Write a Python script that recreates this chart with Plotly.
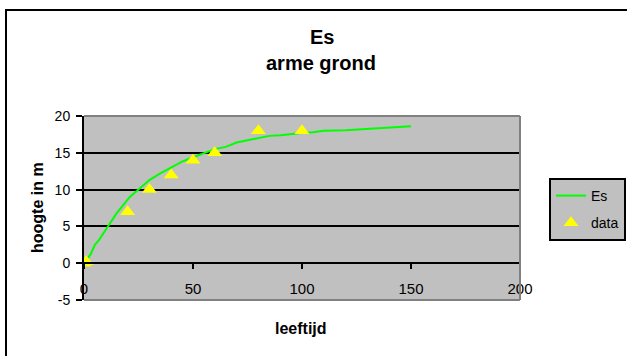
import plotly.graph_objects as go

# Data
curve_age = [0, 1, 3, 5, 7, 9, 12, 15, 18, 21, 25, 30, 35, 40, 45, 50, 55, 60, 65, 70,
             75, 80, 85, 90, 95, 100, 105, 110, 120, 130, 140, 150]
curve_height = [0, 0.4, 1.2, 2.5, 3.2, 4.1, 5.5, 6.8, 7.9, 9.0, 10.0, 11.3, 12.2, 13.0,
                13.8, 14.4, 15.0, 15.5, 15.8, 16.4, 16.7, 17.0, 17.3, 17.4, 17.6, 17.7,
                17.8, 18.0, 18.05, 18.2, 18.4, 18.6]
data_age = [0, 1, 20, 30, 40, 50, 60, 80, 100]
data_height = [0, 0.2, 7, 10, 12, 14, 15, 18, 18]
y_tick_values = [-5, 0, 5, 10, 15, 20]
y_tick_labels = ["-5", "0", "5", "10", "15", "20"]

FONT = "Liberation Sans, Arial, sans-serif"

fig = go.Figure()
fig.add_trace(go.Scatter(x=curve_age, y=curve_height, mode="lines", name="Es",
                         line=dict(color="#00ff00", width=2), legendgroup="a"))
fig.add_trace(go.Scatter(x=data_age, y=data_height, mode="markers", name="data",
                         marker=dict(symbol="triangle-up", color="#ffff00", size=13,
                                     line=dict(width=0)), legendgroup="b"))

W, H = 627, 356
L, R, T, B = 84, 520, 116, 300
pw, ph = R - L, B - T

def px(x):
    return (x - L) / pw

def py(y):
    return 1 - (y - T) / ph

fig.update_layout(
    width=W, height=H,
    margin=dict(l=L, r=W - R, t=T, b=H - B, autoexpand=False),
    paper_bgcolor="white", plot_bgcolor="#c0c0c0",
    font=dict(family=FONT, color="black", size=14),
    showlegend=True,
    legend=dict(x=px(549), y=py(178), xanchor="left", yanchor="top",
                bgcolor="#c0c0c0", bordercolor="black", borderwidth=2,
                font=dict(size=14, family=FONT), tracegroupgap=6),
    xaxis=dict(range=[0, 200], dtick=50, tick0=0, showgrid=False, zeroline=False,
               showline=True, linecolor="black", linewidth=2,
               ticks="outside", ticklen=5, tickwidth=2, tickcolor="black",
               anchor="free", position=0.2, ticklabelstandoff=7,
               tickfont=dict(size=15, family=FONT)),
    yaxis=dict(range=[-5, 20], tickmode="array", tickvals=y_tick_values,
               ticktext=y_tick_labels, showgrid=True, gridcolor="black",
               gridwidth=1.5, zeroline=False, showline=True, linecolor="black",
               linewidth=2, ticks="outside", ticklen=6, tickwidth=2, tickcolor="black",
               ticklabelstandoff=3, tickfont=dict(size=14, family=FONT)),
    shapes=[
        dict(type="line", xref="paper", yref="paper", x0=0, x1=1, y0=1, y1=1,
             line=dict(color="#808080", width=2), layer="above"),
        dict(type="line", xref="paper", yref="paper", x0=1, x1=1, y0=0, y1=1,
             line=dict(color="#808080", width=2), layer="above"),
        dict(type="line", xref="paper", yref="paper", x0=0, x1=1, y0=0, y1=0,
             line=dict(color="#808080", width=2), layer="above"),
        dict(type="rect", xref="paper", yref="paper", x0=px(6), x1=px(700),
             y0=py(400), y1=py(10), line=dict(color="black", width=2),
             fillcolor="rgba(0,0,0,0)", layer="above"),
    ],
    annotations=[
        dict(text="<b>Es</b>", x=px(322), y=py(37), xref="paper", yref="paper",
             xanchor="center", yanchor="middle",
             showarrow=False, font=dict(size=20, family=FONT)),
        dict(text="<b>arme grond</b>", x=px(321), y=py(63), xref="paper", yref="paper",
             xanchor="center", yanchor="middle",
             showarrow=False, font=dict(size=20, family=FONT)),
        dict(text="<b>hoogte in m</b>", x=px(37), y=py(208), xref="paper", yref="paper",
             xanchor="center", yanchor="middle",
             showarrow=False, textangle=-90, font=dict(size=16, family=FONT)),
        dict(text="<b>leeftijd</b>", x=px(301), y=py(328), xref="paper", yref="paper",
             xanchor="center", yanchor="middle",
             showarrow=False, font=dict(size=16, family=FONT)),
    ],
)

fig.write_html(
    "out.html",
    config={"displayModeBar": False},
    post_script="document.body.style.margin='0';document.body.style.overflow='hidden';",
)
